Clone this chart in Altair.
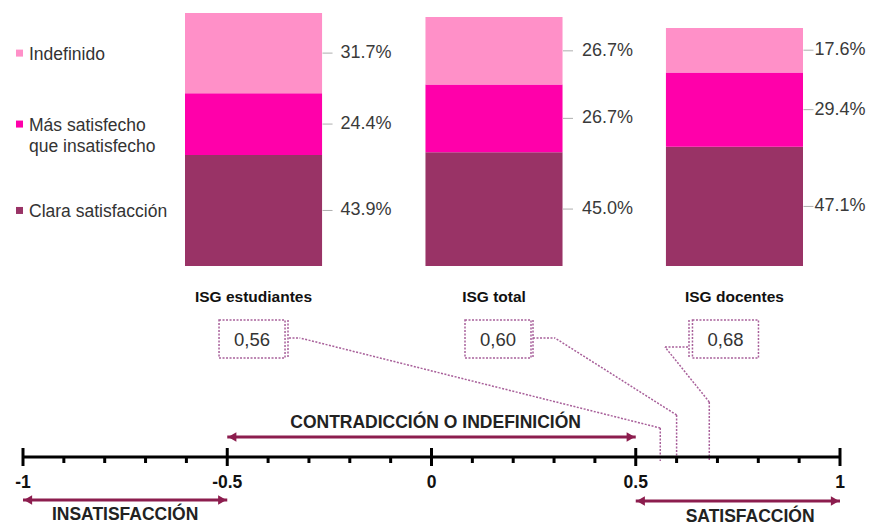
import altair as alt
import pandas as pd

# ---------------- data ----------------
groups = ["ISG estudiantes", "ISG total", "ISG docentes"]
categories = ["Clara satisfacción", "Más satisfecho que insatisfecho", "Indefinido"]  # bottom -> top
clara = [43.9, 45.0, 47.1]
mas = [24.4, 26.7, 29.4]
indef = [31.7, 26.7, 17.6]
legend_labels = ["Clara satisfacción", "Más satisfecho\nque insatisfecho", "Indefinido"]

isg_values = [0.56, 0.60, 0.68]
isg_labels = ["0,56", "0,60", "0,68"]

major_ticks = [-1, -0.5, 0, 0.5, 1]
major_labels = ["-1", "-0.5", "0", "0.5", "1"]
minor_ticks = [-0.9, -0.8, -0.7, -0.6, -0.4, -0.3, -0.2, -0.1,
               0.1, 0.2, 0.3, 0.4, 0.6, 0.7, 0.8, 0.9]

zone_names = ["CONTRADICCIÓN O INDEFINICIÓN", "INSATISFACCIÓN", "SATISFACCIÓN"]
zone_from = [-0.5, -1, 0.5]
zone_to = [0.5, -0.5, 1]
zone_label_at = [0.01, -0.75, 0.78]

# ---------------- styles ----------------
F = "Liberation Sans"
colors = ["#993366", "#FF00AA", "#FF90C8"]
ARROW = "#8C1D4E"
DOT = "#A8609A"

series = [clara, mas, indef]
rows = []
for gi, g in enumerate(groups):
    base = 0.0
    for ci, c in enumerate(categories):
        v = series[ci][gi]
        rows.append(dict(grupo=g, cat=c, v=v, y0=base, y1=base + v, mid=base + v / 2,
                         lab=f"{v:.1f}%", leg=legend_labels[ci]))
        base += v
bar_df = pd.DataFrame(rows)
leg_df = bar_df[bar_df.grupo == groups[0]]
grp_df = pd.DataFrame({"grupo": groups})
isg_df = pd.DataFrame({"grupo": groups, "isg": isg_values, "lab": isg_labels})

XB = alt.Scale(type="band", domain=groups, range=[177, 795], paddingInner=0.43, paddingOuter=0)
YP = alt.Scale(domain=[0, 100], range=[258, 5])
XN = alt.Scale(domain=[-1, 1], range=[15, 832])
CS = alt.Scale(domain=categories, range=colors)

xb = alt.X("grupo:N", scale=XB, axis=None)
layers = []

# stacked bars
layers.append(alt.Chart(bar_df).mark_bar().encode(
    x=xb, y=alt.Y("y0:Q", scale=YP, axis=None), y2="y1:Q",
    color=alt.Color("cat:N", scale=CS, legend=None)))
# small leader ticks
layers.append(alt.Chart(bar_df).mark_tick(orient="horizontal", size=10, thickness=1,
                                          color="#8c8c8c", xOffset=74).encode(
    x=xb, y=alt.Y("mid:Q", scale=YP, axis=None)))
# percentage labels (last column slightly closer so it stays inside the page)
label_dx = [87, 88, 80]
for gi, g in enumerate(groups):
    layers.append(alt.Chart(bar_df[bar_df.grupo == g]).mark_text(
        align="left", baseline="middle", dx=label_dx[gi], fontSize=18,
        font=F, color="#3a3a3a").encode(
        x=xb, y=alt.Y("mid:Q", scale=YP, axis=None), text="lab:N"))
# group labels
layers.append(alt.Chart(grp_df).mark_text(fontSize=15.5, fontWeight="bold", font=F,
                                          color="#111").encode(
    x=xb, y=alt.value(289), text="grupo:N"))
# manual legend
layers.append(alt.Chart(leg_df).mark_square(size=49, opacity=1).encode(
    x=alt.value(11.5), y=alt.Y("mid:Q", scale=YP, axis=None),
    color=alt.Color("cat:N", scale=CS, legend=None)))
layers.append(alt.Chart(leg_df).mark_text(align="left", baseline="alphabetic", dy=7,
                                          lineBreak="\n", lineHeight=21, fontSize=17.5,
                                          font=F, color="#333").encode(
    x=alt.value(21), y=alt.Y("mid:Q", scale=YP, axis=None), text="leg:N"))

# ISG boxes and connectors (layout in pixels, endpoint on the number line scale)
box_dx = [-1.5, 4, -9]
box_y, box_y2 = 312, 350
edge_x = [280, 525, 681]
conn_start = [(281, 330), (525, 330), (680, 339)]
conn_knee = [(292, 330), (547, 330), (657, 339)]
elbow_y = [420, 407, 394]
line_y = 449
for i in range(3):
    d = isg_df.iloc[[i]]
    layers.append(alt.Chart(d).mark_bar(size=66, fill="white", fillOpacity=0, stroke=DOT,
                                        strokeWidth=1.5, strokeDash=[2, 1.5],
                                        xOffset=box_dx[i]).encode(
        x=xb, y=alt.value(box_y), y2=alt.value(box_y2)))
    layers.append(alt.Chart(d).mark_text(fontSize=18.5, font=F, color="#333",
                                         xOffset=box_dx[i]).encode(
        x=xb, y=alt.value(332), text="lab:N"))
    layers.append(alt.Chart(d).mark_rule(color=DOT, strokeWidth=1.5, strokeDash=[2, 1.5]).encode(
        x=alt.value(edge_x[i]), y=alt.value(box_y), y2=alt.value(box_y2)))
    layers.append(alt.Chart(d).mark_rule(color=DOT, strokeWidth=1.5, strokeDash=[2, 1.5]).encode(
        x=alt.value(conn_start[i][0]), x2=alt.value(conn_knee[i][0]),
        y=alt.value(conn_start[i][1])))
    layers.append(alt.Chart(d).mark_rule(color=DOT, strokeWidth=1.5, strokeDash=[2, 1.5]).encode(
        x=alt.X("isg:Q", scale=XN, axis=None), y=alt.value(elbow_y[i]),
        x2=alt.value(conn_knee[i][0]), y2=alt.value(conn_knee[i][1])))
    layers.append(alt.Chart(d).mark_rule(color=DOT, strokeWidth=1.5, strokeDash=[2, 1.5]).encode(
        x=alt.X("isg:Q", scale=XN, axis=None), y=alt.value(elbow_y[i]),
        y2=alt.value(line_y + 4)))

# number line
ends_df = pd.DataFrame({"a": [major_ticks[0]], "b": [major_ticks[-1]]})
layers.append(alt.Chart(ends_df).mark_rule(color="black", strokeWidth=3).encode(
    x=alt.X("a:Q", scale=XN, axis=None), x2="b:Q", y=alt.value(line_y)))
maj_df = pd.DataFrame({"t": major_ticks, "lab": major_labels})
layers.append(alt.Chart(maj_df).mark_rule(color="black", strokeWidth=3).encode(
    x=alt.X("t:Q", scale=XN, axis=None), y=alt.value(line_y - 9), y2=alt.value(line_y + 9)))
layers.append(alt.Chart(pd.DataFrame({"t": minor_ticks})).mark_rule(color="black", strokeWidth=3).encode(
    x=alt.X("t:Q", scale=XN, axis=None), y=alt.value(line_y), y2=alt.value(line_y + 6)))
layers.append(alt.Chart(maj_df).mark_text(fontSize=17.5, fontWeight="bold", font=F, color="#111",
                                          baseline="middle").encode(
    x=alt.X("t:Q", scale=XN, axis=None), y=alt.value(475), text="lab:N"))

# zone arrows
arrow_y = [429, 492, 493]
label_y = [415, 507, 509]
for i in range(3):
    d = pd.DataFrame({"a": [zone_from[i]], "b": [zone_to[i]], "m": [zone_label_at[i]],
                      "name": [zone_names[i]]})
    layers.append(alt.Chart(d).mark_rule(color=ARROW, strokeWidth=3).encode(
        x=alt.X("a:Q", scale=XN, axis=None), x2="b:Q", y=alt.value(arrow_y[i])))
    layers.append(alt.Chart(d).mark_point(shape="triangle-left", filled=True, size=90,
                                          opacity=1, color=ARROW, xOffset=5).encode(
        x=alt.X("a:Q", scale=XN, axis=None), y=alt.value(arrow_y[i])))
    layers.append(alt.Chart(d).mark_point(shape="triangle-right", filled=True, size=90,
                                          opacity=1, color=ARROW, xOffset=-5).encode(
        x=alt.X("b:Q", scale=XN, axis=None), y=alt.value(arrow_y[i])))
    layers.append(alt.Chart(d).mark_text(fontSize=17.5, fontWeight="bold", font=F,
                                         color="#222", baseline="middle").encode(
        x=alt.X("m:Q", scale=XN, axis=None), y=alt.value(label_y[i]), text="name:N"))

chart = alt.layer(*layers).resolve_scale(
    x="independent", y="independent", color="independent"
).properties(
    width=858, height=517, padding=0, autosize=alt.AutoSizeParams(type="none"),
    background="white"
).configure_view(stroke=None)

chart.save("out.html", embed_options={"renderer": "svg", "actions": False})
